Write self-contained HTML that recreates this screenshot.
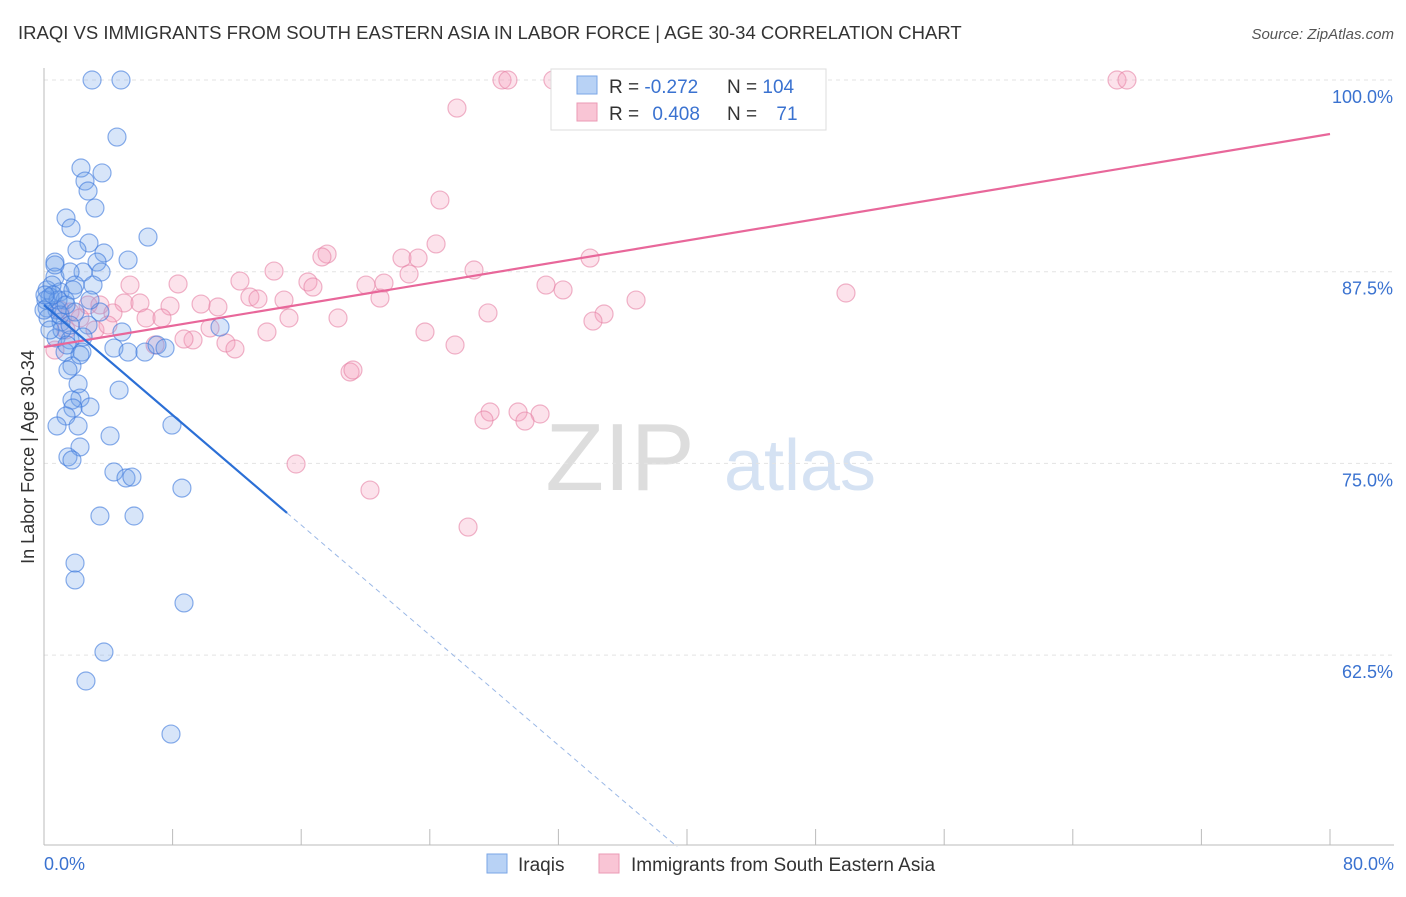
<!DOCTYPE html>
<html><head><meta charset="utf-8"><style>
body{margin:0;background:#fff;font-family:"Liberation Sans",sans-serif}
svg text{font-family:"Liberation Sans",sans-serif}
</style></head><body>
<svg id="chart" width="1406" height="892">
<text x="18" y="39" font-size="18.5" fill="#333">IRAQI VS IMMIGRANTS FROM SOUTH EASTERN ASIA IN LABOR FORCE | AGE 30-34 CORRELATION CHART</text>
<text x="1394" y="39" font-size="15" fill="#555" text-anchor="end" font-style="italic">Source: ZipAtlas.com</text>
<text x="620" y="490" font-size="96" fill="#ddd" font-family="Liberation Serif" text-anchor="middle">ZIP</text>
<text x="800" y="490" font-size="72" fill="#d5e2f3" text-anchor="middle">atlas</text>
<text transform="translate(34,457) rotate(-90)" font-size="18" fill="#333" text-anchor="middle">In Labor Force | Age 30-34</text>
<g id="grid"></g><g id="pts"></g><g id="lines"></g>
<g>
<rect x="551" y="69" width="275" height="61" fill="#fff" stroke="#ddd"/>
<rect x="577" y="76" width="20" height="18" fill="#b8d2f5" stroke="#7aa6e6"/>
<rect x="577" y="103" width="20" height="18" fill="#f9c5d5" stroke="#eb9ab5"/>
<text x="609" y="93" font-size="19" fill="#333">R = <tspan fill="#3a72d0">-0.272</tspan></text>
<text x="727" y="93" font-size="19" fill="#333">N = <tspan fill="#3a72d0">104</tspan></text>
<text x="609" y="120" font-size="19" fill="#333">R = <tspan fill="#3a72d0" dx="8">0.408</tspan></text>
<text x="727" y="120" font-size="19" fill="#333">N = <tspan fill="#3a72d0" dx="14">71</tspan></text>
</g>
<g>
<rect x="487" y="854" width="20" height="19" fill="#b8d2f5" stroke="#7aa6e6"/>
<text x="518" y="871" font-size="19" fill="#333">Iraqis</text>
<rect x="599" y="854" width="20" height="19" fill="#f9c5d5" stroke="#eb9ab5"/>
<text x="631" y="871" font-size="19" fill="#333">Immigrants from South Eastern Asia</text>
</g>
</svg>
<script>
const blueX=[2.99,4.79,4.54,2.30,3.61,2.55,2.74,3.17,1.37,1.68,6.47,2.80,2.05,3.73,0.68,3.30,5.23,2.43,3.55,0.68,1.62,0.19,1.93,3.05,1.0,0.37,1.31,0.19,0.81,1.93,3.48,2.74,1.06,4.85,0.75,1.62,2.43,4.35,5.23,2.36,1.31,6.28,7.03,7.53,10.95,1.74,1.49,2.12,4.67,2.24,1.74,2.86,1.80,1.37,0.81,2.12,7.96,4.11,2.24,1.49,1.74,4.35,5.10,5.47,8.58,3.48,5.60,1.93,1.93,8.71,3.73,2.61,7.90,0.12,0.25,0.50,0.87,1.12,1.43,0.37,0.56,0,1.0,1.62,0.68,0.06,2.24,1.37,1.80,2.86];
const blueY=[100,100,96.28,94.26,93.94,93.41,92.76,91.65,91.0,90.35,89.76,89.37,88.91,88.72,88.13,88.13,88.26,87.48,87.48,87.15,87.48,86.31,86.63,86.63,86.18,85.85,85.65,85.13,85.0,84.87,84.87,84.02,84.22,83.57,83.18,83.05,83.24,82.52,82.26,82.26,82.26,82.26,82.72,82.52,83.89,81.35,81.09,80.18,79.78,79.26,79.13,78.68,78.61,78.09,77.44,77.44,77.50,76.79,76.07,75.42,75.22,74.44,74.05,74.11,73.39,71.57,71.57,68.50,67.4,65.9,62.7,60.81,57.35,85.65,84.48,86.63,85.65,83.7,82.72,83.7,85.98,85.0,84.68,84.02,87.94,85.98,82.07,85.33,86.31,85.65];
const pinkX=[28.49,28.86,31.66,43.11,66.75,67.37,25.69,24.63,24.39,17.61,17.29,22.27,23.27,26.75,14.31,22.71,12.19,8.34,5.35,16.42,16.73,20.03,21.15,31.23,32.29,33.97,12.81,13.31,14.93,20.90,4.98,5.97,7.84,9.77,10.82,36.83,49.89,2.74,3.48,4.29,6.35,7.34,15.24,18.29,27.62,34.84,34.15,10.33,13.87,23.70,9.27,8.71,11.32,11.88,6.91,25.57,19.04,19.22,27.75,29.49,30.86,29.92,27.37,15.68,20.28,26.38,1.0,1.62,2.24,0.68,3.17,1.37,3.98];
const pinkY=[100,100,100,100,100,100,98.17,92.17,89.31,88.65,88.46,88.39,88.39,87.61,87.54,87.35,86.89,86.7,86.63,86.83,86.5,86.63,86.76,86.63,86.31,88.39,85.85,85.72,85.65,85.78,85.46,85.46,85.26,85.39,85.2,85.65,86.11,85.33,85.33,84.81,84.48,84.48,84.48,84.48,84.81,84.74,84.28,83.83,83.57,83.57,83.05,83.11,82.85,82.46,82.72,82.72,80.96,81.09,78.35,78.35,78.22,77.76,77.83,74.96,73.26,70.85,85.0,84.87,84.48,82.39,83.7,83.7,84.02];
const yTicks=[100,87.5,75,62.5];
const yTickLabels=["100.0%","87.5%","75.0%","62.5%"];
const blueFit=[85.33,-0.897];
const pinkFit=[82.59,0.1736];
const NS="http://www.w3.org/2000/svg";
const sx=v=>44+v/80*1286, sy=v=>80+(100-v)/12.5*191.7;
function mk(tag,attrs,parent){const e=document.createElementNS(NS,tag);for(const k in attrs)e.setAttribute(k,attrs[k]);parent.appendChild(e);return e;}
const grid=document.getElementById('grid');
yTicks.forEach((t,i)=>{
 const l=mk('line',{x1:44,x2:1394,y1:sy(t),y2:sy(t),stroke:'#e3e3e3','stroke-dasharray':'4,4'},grid);
 
 
 const tx=mk('text',{x:1393,y:sy(t)+23,'font-size':18,fill:'#3a72d0','text-anchor':'end'},grid);
 tx.textContent=yTickLabels[i];
 
 
});
const ax=mk('line',{x1:44,x2:44,y1:68,y2:845,stroke:'#bbb'},grid);


const bx=mk('line',{x1:44,x2:1394,y1:845,y2:845,stroke:'#bbb'},grid);


for(let i=0;i<=10;i++){const v=i*8;const tk=mk('line',{x1:sx(v),x2:sx(v),y1:829,y2:845,stroke:'#bbb'},grid);
 
 }
const x0=mk('text',{x:44,y:870,'font-size':18,fill:'#3a72d0'},grid);x0.textContent='0.0%';


const x1=mk('text',{x:1394,y:870,'font-size':18,fill:'#3a72d0','text-anchor':'end'},grid);x1.textContent='80.0%';


const pts=document.getElementById('pts');
pinkX.forEach((x,i)=>{const c=mk('circle',{cx:sx(x),cy:sy(pinkY[i]),r:9,fill:'rgba(244,160,190,0.3)',stroke:'rgba(230,130,165,0.6)','stroke-width':1.2},pts);
 
 });
blueX.forEach((x,i)=>{const c=mk('circle',{cx:sx(x),cy:sy(blueY[i]),r:9,fill:'rgba(110,160,235,0.28)',stroke:'rgba(60,120,220,0.6)','stroke-width':1.2},pts);
 
 });
const lines=document.getElementById('lines');
const pl=mk('line',{x1:sx(0),y1:sy(pinkFit[0]),x2:sx(80),y2:sy(pinkFit[0]+pinkFit[1]*80),stroke:'#e8679a','stroke-width':2.2},lines);


const bend=15.12, bzero=(50-blueFit[0])/blueFit[1];
const bl=mk('line',{x1:sx(0),y1:sy(blueFit[0]),x2:sx(bend),y2:sy(blueFit[0]+blueFit[1]*bend),stroke:'#2b6fd6','stroke-width':2.2},lines);


const bd=mk('line',{x1:sx(bend),y1:sy(blueFit[0]+blueFit[1]*bend),x2:sx(bzero),y2:sy(50),stroke:'#9bb8e6','stroke-width':1,'stroke-dasharray':'5,4'},lines);


</script>
</body></html>
